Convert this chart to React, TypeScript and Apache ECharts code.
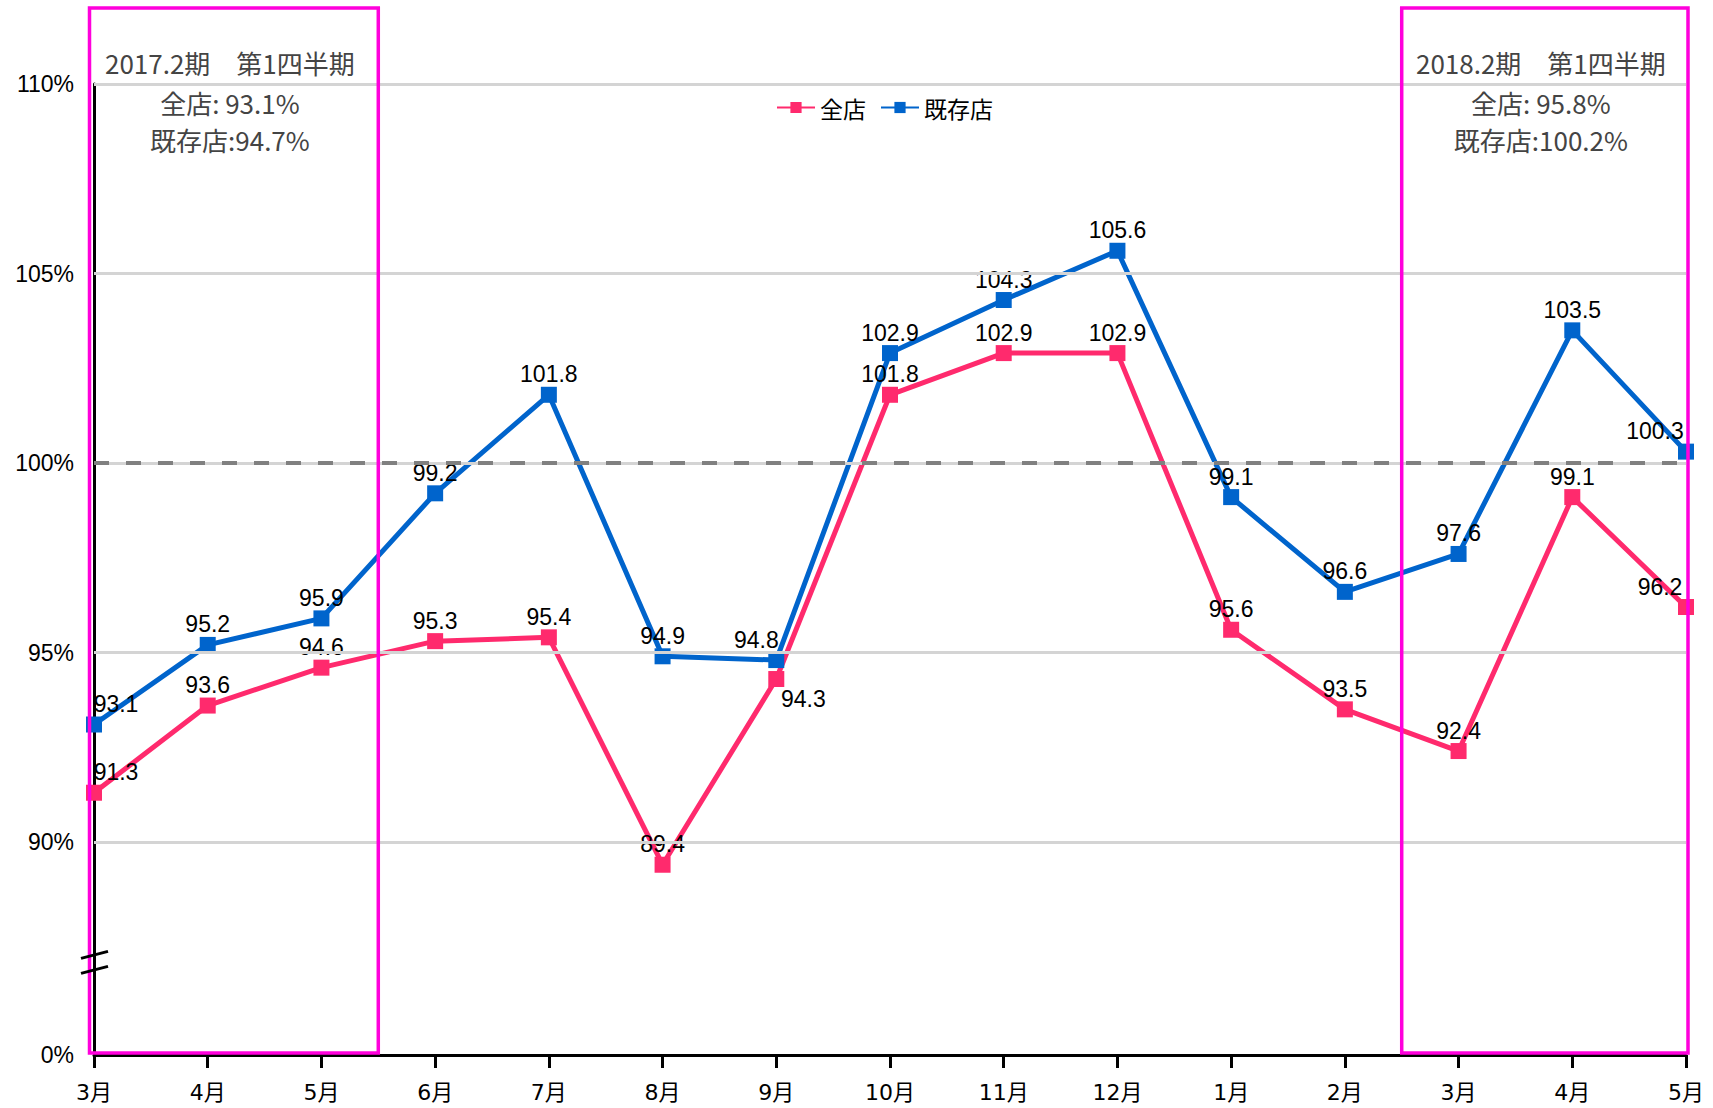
import React, { useEffect, useRef } from 'react';
import * as echarts from 'echarts';

const categories = ['3月', '4月', '5月', '6月', '7月', '8月', '9月', '10月', '11月', '12月', '1月', '2月', '3月', '4月', '5月'];
const allStores = [91.3, 93.6, 94.6, 95.3, 95.4, 89.4, 94.3, 101.8, 102.9, 102.9, 95.6, 93.5, 92.4, 99.1, 96.2];
const existingStores = [93.1, 95.2, 95.9, 99.2, 101.8, 94.9, 94.8, 102.9, 104.3, 105.6, 99.1, 96.6, 97.6, 103.5, 100.3];
const seriesNames = ['全店', '既存店'];
const yTickValues = [84.38, 90, 95, 100, 105, 110];
const yTickLabels = ['0%', '90%', '95%', '100%', '105%', '110%'];
const gridValues = [90, 95, 105, 110];
const referenceValue = 100;
const breakValue = 86.85;
const periodRanges = [
  [0, 2],
  [12, 14],
];
const periodTitles = ['2017.2期　第1四半期', '2018.2期　第1四半期'];
const periodAll = ['全店: 93.1%', '全店: 95.8%'];
const periodExisting = ['既存店:94.7%', '既存店:100.2%'];

const PINK = '#FF2A6D';
const BLUE = '#0064CC';
const MAGENTA = '#FF00DC';
const NUM_FONT = '"Liberation Sans", Arial, sans-serif';
const JP_FONT = '"Noto Sans CJK JP", sans-serif';

const pinkLabelTweaks: Record<number, any> = {
  0: { offset: [22, 0] },
  6: { position: 'bottom', distance: 0, offset: [27, 0] },
  14: { offset: [-26, 0] },
};
const blueLabelTweaks: Record<number, any> = {
  0: { offset: [22, 0] },
  6: { offset: [-20, 0] },
  14: { offset: [-31, 0] },
};

function buildData(values: number[], tweaks: Record<number, any>) {
  return values.map((v, i) => (tweaks[i] ? { value: v, label: tweaks[i] } : v));
}

export default function App() {
  const ref = useRef<HTMLDivElement>(null);

  useEffect(() => {
    if (!ref.current) return;
    document.body.style.margin = '0';
    const chart = echarts.init(ref.current, null, { renderer: 'svg' });
    const lineSeries = (name: string, values: number[], color: string, tweaks: Record<number, any>) => ({
      name,
      type: 'line',
      z: 3,
      data: buildData(values, tweaks),
      symbol: 'rect',
      symbolSize: 16,
      itemStyle: { color },
      lineStyle: { color, width: 5 },
      label: {
        show: true,
        position: 'top',
        distance: 1,
        color: '#000',
        fontSize: 23,
        fontFamily: NUM_FONT,
      },
    });

    const option: any = {
      animation: false,
      backgroundColor: '#fff',
      grid: { left: 94, right: 27, top: 84, bottom: 53 },
      legend: {
        data: seriesNames,
        left: 771,
        top: 91,
        itemWidth: 38,
        itemHeight: 14,
        itemGap: 14,
        textStyle: { fontSize: 23, color: '#000', fontFamily: JP_FONT },
      },
      xAxis: {
        type: 'category',
        data: categories,
        boundaryGap: false,
        axisLine: { lineStyle: { color: '#000', width: 3 } },
        axisTick: { length: 13, lineStyle: { color: '#000', width: 3 } },
        axisLabel: {
          interval: 0,
          margin: 26,
          fontSize: 22,
          color: '#000',
          fontFamily: '"DejaVu Sans", "Noto Sans CJK JP", sans-serif',
        },
        splitLine: { show: false },
      },
      yAxis: {
        type: 'value',
        min: yTickValues[0],
        max: yTickValues[yTickValues.length - 1],
        axisLine: { show: true, lineStyle: { color: '#000', width: 3 } },
        axisTick: { show: false },
        splitLine: { show: false },
        axisLabel: {
          customValues: yTickValues,
          margin: 20,
          fontSize: 23,
          color: '#000',
          fontFamily: NUM_FONT,
          formatter: (v: number) => {
            const idx = yTickValues.findIndex((t) => Math.abs(t - v) < 0.01);
            return idx >= 0 ? yTickLabels[idx] : '';
          },
        },
      },
      series: [
        {
          name: 'grid',
          type: 'line',
          z: 1,
          data: [],
          silent: true,
          markLine: {
            silent: true,
            symbol: ['none', 'none'],
            label: { show: false },
            lineStyle: { color: '#D4D4D4', width: 3, type: 'solid' },
            data: [
              ...gridValues.map((v) => ({ yAxis: v })),
              { yAxis: referenceValue },
              { yAxis: referenceValue, lineStyle: { color: '#808080', width: 4, type: [15, 17] } },
            ],
          },
        },
        lineSeries(seriesNames[0], allStores, PINK, pinkLabelTweaks),
        lineSeries(seriesNames[1], existingStores, BLUE, blueLabelTweaks),
      ],
    };
    chart.setOption(option);

    const px = (i: number, v: number) => chart.convertToPixel({ gridIndex: 0 }, [i, v]) as number[];
    const step = px(1, 100)[0] - px(0, 100)[0];
    const axisY = px(0, yTickValues[0])[1];
    const topY = px(0, yTickValues[yTickValues.length - 1])[1];
    const boxTop = 8;
    const boxBottom = axisY - 2;
    const lastIdx = categories.length - 1;

    const elements: any[] = [];
    periodRanges.forEach(([a, b], k) => {
      const left = a === 0 ? px(a, 100)[0] - 4.5 : px(a, 100)[0] - step / 2;
      const right = b === lastIdx ? px(b, 100)[0] + 2 : px(b, 100)[0] + step / 2;
      elements.push({
        type: 'rect',
        z: 20,
        silent: true,
        shape: { x: left, y: boxTop, width: right - left, height: boxBottom - boxTop },
        style: { fill: 'none', stroke: MAGENTA, lineWidth: 3.5 },
      });
      const cx = (left + right) / 2 - 4;
      const lines = [periodTitles[k], periodAll[k], periodExisting[k]];
      const offsets = [-22, 18, 55];
      lines.forEach((t, j) => {
        elements.push({
          type: 'text',
          z: 21,
          silent: true,
          x: cx,
          y: topY + offsets[j],
          style: {
            text: t,
            fill: '#444',
            fontSize: 26,
            fontFamily: JP_FONT,
            textAlign: 'center',
            textVerticalAlign: 'middle',
          },
        });
      });
    });

    const bp = px(0, breakValue);
    [-7, 8].forEach((dy) => {
      elements.push({
        type: 'line',
        z: 22,
        silent: true,
        shape: { x1: bp[0] - 13, y1: bp[1] + dy + 4, x2: bp[0] + 14, y2: bp[1] + dy - 3 },
        style: { stroke: '#000', lineWidth: 3 },
      });
    });

    chart.setOption({ graphic: { elements } });

    return () => chart.dispose();
  }, []);

  return <div ref={ref} style={{ width: 1713, height: 1108 }} />;
}
